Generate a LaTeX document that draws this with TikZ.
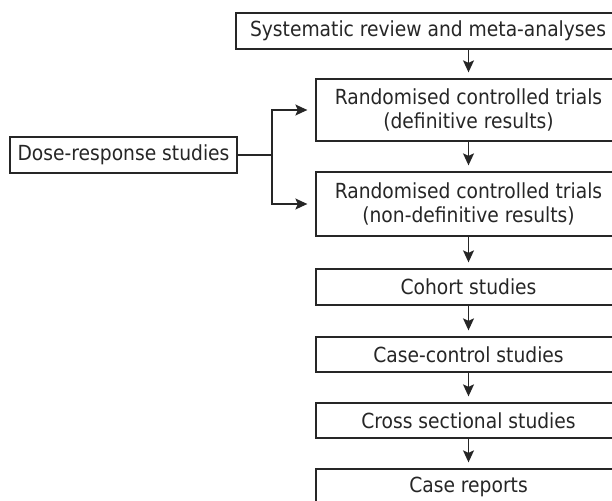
\documentclass[tikz,border=0pt]{standalone}
\usepackage{fontspec}
\setmainfont{DejaVu Sans Condensed}
\usetikzlibrary{arrows.meta,calc}
\definecolor{ink}{HTML}{262626}
\newlength\reflen
\begin{document}
\settowidth\reflen{\fontsize{10}{12}\selectfont Systematic review and meta-analyses}%
\pgfmathsetmacro\fsz{10*356/\reflen}%
\tikzset{
  box/.style={draw=ink, line width=1.3pt, rectangle, inner sep=0pt, align=center,
    text=ink, font=\fontsize{\fsz}{24}\selectfont},
  arr/.style={draw=ink, line width=1.3pt, -{Stealth[length=12pt,width=11pt,inset=2.5pt]}},
  ln/.style={draw=ink, line width=1.3pt}
}
\begin{tikzpicture}[x=1pt,y=-1pt]
\clip (0,0) rectangle (612,500);
\node[box, minimum width=384pt, minimum height=36pt] (sys) at (428,31) {Systematic review and meta-analyses};
\node[box, minimum width=305pt, minimum height=62pt] (rct1) at (468.5,110) {Randomised controlled trials\\(definitive results)};
\node[box, minimum width=305pt, minimum height=64pt] (rct2) at (468.5,204) {Randomised controlled trials\\(non-definitive results)};
\node[box, minimum width=305pt, minimum height=36pt] (coh) at (468.5,287) {Cohort studies};
\node[box, minimum width=305pt, minimum height=35pt] (cc) at (468.5,354.5) {Case-control studies};
\node[box, minimum width=305pt, minimum height=35pt] (cs) at (468.5,420.5) {Cross sectional studies};
\node[box, minimum width=305pt, minimum height=35pt] (cr) at (468.5,486.5) {Case reports};
\node[box, minimum width=227pt, minimum height=36pt] (dose) at (123.5,155) {Dose-response studies};
\coordinate (br) at (272,155);
\draw[arr, shorten >=6pt] (sys.south -| rct1.north) -- (rct1.north);
\draw[arr, shorten >=6pt] (rct1.south) -- (rct2.north);
\draw[arr, shorten >=6pt] (rct2.south) -- (coh.north);
\draw[arr, shorten >=6pt] (coh.south) -- (cc.north);
\draw[arr, shorten >=6pt] (cc.south) -- (cs.north);
\draw[arr, shorten >=6pt] (cs.south) -- (cr.north);
\draw[ln] (dose.east) -- (br);
\draw[arr, shorten >=8pt] (br) |- (rct1.west);
\draw[arr, shorten >=8pt] (br) |- (rct2.west);
\end{tikzpicture}
\end{document}
